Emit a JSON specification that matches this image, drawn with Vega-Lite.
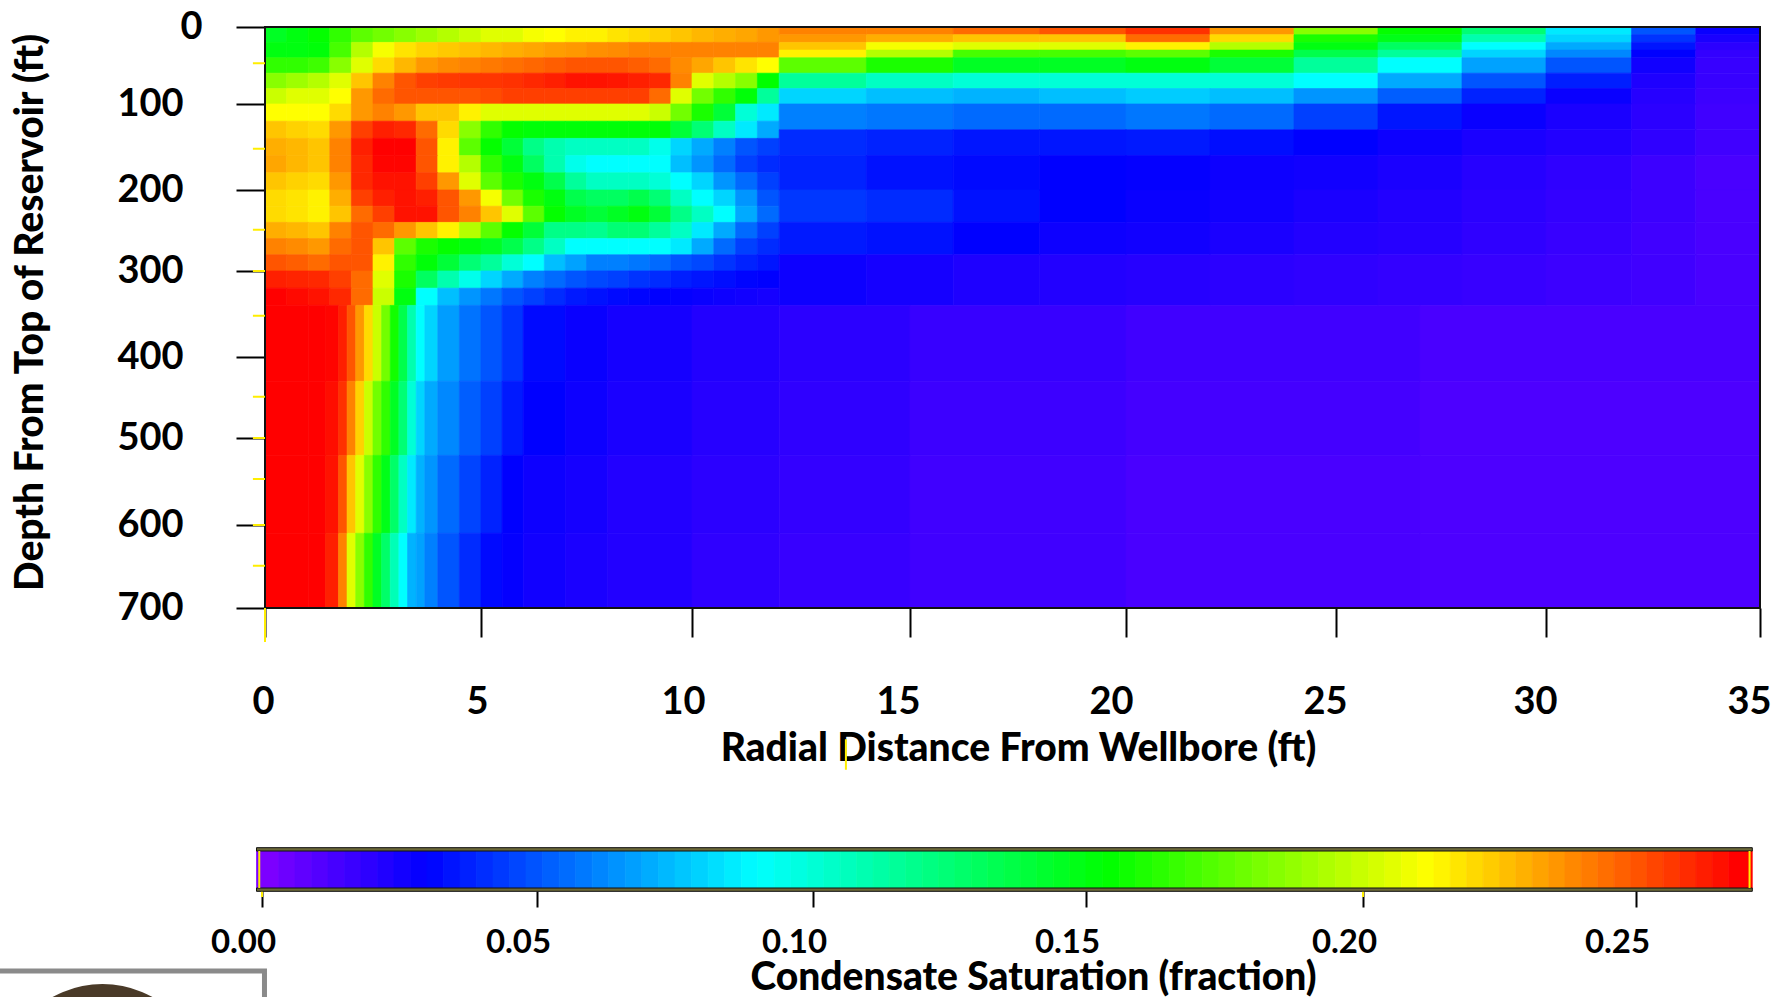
{"$schema":"https://vega.github.io/schema/vega-lite/v6.json","width":1790,"height":997,"padding":0,"autosize":{"type":"none"},"background":"white","config":{"view":{"stroke":null},"font":"Lato"},"resolve":{"scale":{"x":"independent","y":"independent"},"axis":{"x":"independent","y":"independent"}},"layer":[
{"encoding":{"x":{"field":"x","type":"quantitative","scale":{"domain":[0,5,10,15,20,25,30,35],"range":[265,481,692,910,1126,1336,1546,1760],"nice":false,"zero":false},"axis":{"orient":"bottom","values":[0,5,10,15,20,25,30,35],"format":"d","offset":-389,"domain":false,"grid":false,"labelFlush":false,"tickColor":"black","tickWidth":2,"tickSize":29,"labelFont":"Lato","labelFontWeight":"bold","labelFontSize":38,"labelColor":"black","labelPadding":46,"labelOffset":{"condition":[{"test":"datum.value==0","value":-2},{"test":"datum.value==5","value":-4},{"test":"datum.value==10","value":-9},{"test":"datum.value==15","value":-12},{"test":"datum.value==20","value":-15}],"value":-11},"title":"Radial Distance From Wellbore (ft)","titleFont":"Lato","titleFontWeight":900,"titleFontSize":39,"titleColor":"black","titleX":1018,"titleY":140,"titleAlign":"center","titleBaseline":"middle"}},"x2":{"field":"x2"},"y":{"field":"y","type":"quantitative","scale":{"domain":[0,100,200,300,400,500,600,700],"range":[27,104,190,271,357,438,525,608],"nice":false,"zero":false},"axis":{"values":[0,100,200,300,400,500,600,700],"format":"d","orient":"left","offset":-265,"domain":false,"grid":false,"labelFlush":false,"tickColor":"black","tickWidth":2,"tickSize":29,"labelFont":"Lato","labelFontWeight":"bold","labelFontSize":38,"labelColor":"black","labelPadding":{"condition":{"test":"datum.value==0","value":34},"value":53},"title":"Depth From Top of Reservoir (ft)","titleFont":"Lato","titleFontWeight":900,"titleFontSize":39,"titleColor":"black","titleX":-235,"titleY":312,"titleAlign":"center","titleBaseline":"middle"}},"y2":{"field":"y2"}},
"layer":[
{"mark":{"type":"rect","strokeWidth":0.7},"encoding":{"fill":{"field":"s","type":"quantitative","legend":null,"scale":{"domain":[0,0.03,0.09,0.154,0.212,0.269],"range":["#8000ff","#0000ff","#00ffff","#00ff00","#ffff00","#ff0000"],"interpolate":"rgb","clamp":true}},"stroke":{"field":"s","type":"quantitative","legend":null,"scale":{"domain":[0,0.03,0.09,0.154,0.212,0.269],"range":["#8000ff","#0000ff","#00ffff","#00ff00","#ffff00","#ff0000"],"interpolate":"rgb","clamp":true}}},"data":{"values":[
{"x":0,"x2":0.5,"y":0,"y2":20,"s":0.145},{"x":0.5,"x2":1,"y":0,"y2":20,"s":0.15},{"x":1,"x2":1.5,"y":0,"y2":20,"s":0.155},{"x":1.5,"x2":2,"y":0,"y2":20,"s":0.165},{"x":2,"x2":2.5,"y":0,"y2":20,"s":0.175},{"x":2.5,"x2":3,"y":0,"y2":20,"s":0.18},{"x":3,"x2":3.5,"y":0,"y2":20,"s":0.185},{"x":3.5,"x2":4,"y":0,"y2":20,"s":0.19},{"x":4,"x2":4.5,"y":0,"y2":20,"s":0.195},{"x":4.5,"x2":5,"y":0,"y2":20,"s":0.2},{"x":5,"x2":5.5,"y":0,"y2":20,"s":0.205},{"x":5.5,"x2":6,"y":0,"y2":20,"s":0.205},{"x":6,"x2":6.5,"y":0,"y2":20,"s":0.21},{"x":6.5,"x2":7,"y":0,"y2":20,"s":0.212},{"x":7,"x2":7.5,"y":0,"y2":20,"s":0.215},{"x":7.5,"x2":8,"y":0,"y2":20,"s":0.215},{"x":8,"x2":8.5,"y":0,"y2":20,"s":0.218},{"x":8.5,"x2":9,"y":0,"y2":20,"s":0.22},{"x":9,"x2":9.5,"y":0,"y2":20,"s":0.222},{"x":9.5,"x2":10,"y":0,"y2":20,"s":0.225},{"x":10,"x2":10.5,"y":0,"y2":20,"s":0.228},{"x":10.5,"x2":11,"y":0,"y2":20,"s":0.23},{"x":11,"x2":11.5,"y":0,"y2":20,"s":0.232},{"x":11.5,"x2":12,"y":0,"y2":20,"s":0.235},
{"x":0,"x2":0.5,"y":20,"y2":40,"s":0.15},{"x":0.5,"x2":1,"y":20,"y2":40,"s":0.15},{"x":1,"x2":1.5,"y":20,"y2":40,"s":0.152},{"x":1.5,"x2":2,"y":20,"y2":40,"s":0.17},{"x":2,"x2":2.5,"y":20,"y2":40,"s":0.195},{"x":2.5,"x2":3,"y":20,"y2":40,"s":0.21},{"x":3,"x2":3.5,"y":20,"y2":40,"s":0.218},{"x":3.5,"x2":4,"y":20,"y2":40,"s":0.222},{"x":4,"x2":4.5,"y":20,"y2":40,"s":0.224},{"x":4.5,"x2":5,"y":20,"y2":40,"s":0.226},{"x":5,"x2":5.5,"y":20,"y2":40,"s":0.228},{"x":5.5,"x2":6,"y":20,"y2":40,"s":0.23},{"x":6,"x2":6.5,"y":20,"y2":40,"s":0.232},{"x":6.5,"x2":7,"y":20,"y2":40,"s":0.234},{"x":7,"x2":7.5,"y":20,"y2":40,"s":0.235},{"x":7.5,"x2":8,"y":20,"y2":40,"s":0.237},{"x":8,"x2":8.5,"y":20,"y2":40,"s":0.238},{"x":8.5,"x2":9,"y":20,"y2":40,"s":0.24},{"x":9,"x2":9.5,"y":20,"y2":40,"s":0.24},{"x":9.5,"x2":10,"y":20,"y2":40,"s":0.24},{"x":10,"x2":10.5,"y":20,"y2":40,"s":0.24},{"x":10.5,"x2":11,"y":20,"y2":40,"s":0.24},{"x":11,"x2":11.5,"y":20,"y2":40,"s":0.24},{"x":11.5,"x2":12,"y":20,"y2":40,"s":0.24},
{"x":0,"x2":0.5,"y":40,"y2":60,"s":0.165},{"x":0.5,"x2":1,"y":40,"y2":60,"s":0.165},{"x":1,"x2":1.5,"y":40,"y2":60,"s":0.168},{"x":1.5,"x2":2,"y":40,"y2":60,"s":0.185},{"x":2,"x2":2.5,"y":40,"y2":60,"s":0.205},{"x":2.5,"x2":3,"y":40,"y2":60,"s":0.22},{"x":3,"x2":3.5,"y":40,"y2":60,"s":0.228},{"x":3.5,"x2":4,"y":40,"y2":60,"s":0.235},{"x":4,"x2":4.5,"y":40,"y2":60,"s":0.238},{"x":4.5,"x2":5,"y":40,"y2":60,"s":0.24},{"x":5,"x2":5.5,"y":40,"y2":60,"s":0.242},{"x":5.5,"x2":6,"y":40,"y2":60,"s":0.244},{"x":6,"x2":6.5,"y":40,"y2":60,"s":0.246},{"x":6.5,"x2":7,"y":40,"y2":60,"s":0.248},{"x":7,"x2":7.5,"y":40,"y2":60,"s":0.25},{"x":7.5,"x2":8,"y":40,"y2":60,"s":0.25},{"x":8,"x2":8.5,"y":40,"y2":60,"s":0.25},{"x":8.5,"x2":9,"y":40,"y2":60,"s":0.248},{"x":9,"x2":9.5,"y":40,"y2":60,"s":0.245},{"x":9.5,"x2":10,"y":40,"y2":60,"s":0.238},{"x":10,"x2":10.5,"y":40,"y2":60,"s":0.232},{"x":10.5,"x2":11,"y":40,"y2":60,"s":0.225},{"x":11,"x2":11.5,"y":40,"y2":60,"s":0.218},{"x":11.5,"x2":12,"y":40,"y2":60,"s":0.212},
{"x":0,"x2":0.5,"y":60,"y2":80,"s":0.185},{"x":0.5,"x2":1,"y":60,"y2":80,"s":0.19},{"x":1,"x2":1.5,"y":60,"y2":80,"s":0.195},{"x":1.5,"x2":2,"y":60,"y2":80,"s":0.205},{"x":2,"x2":2.5,"y":60,"y2":80,"s":0.225},{"x":2.5,"x2":3,"y":60,"y2":80,"s":0.24},{"x":3,"x2":3.5,"y":60,"y2":80,"s":0.25},{"x":3.5,"x2":4,"y":60,"y2":80,"s":0.255},{"x":4,"x2":4.5,"y":60,"y2":80,"s":0.256},{"x":4.5,"x2":5,"y":60,"y2":80,"s":0.257},{"x":5,"x2":5.5,"y":60,"y2":80,"s":0.257},{"x":5.5,"x2":6,"y":60,"y2":80,"s":0.258},{"x":6,"x2":6.5,"y":60,"y2":80,"s":0.26},{"x":6.5,"x2":7,"y":60,"y2":80,"s":0.262},{"x":7,"x2":7.5,"y":60,"y2":80,"s":0.265},{"x":7.5,"x2":8,"y":60,"y2":80,"s":0.265},{"x":8,"x2":8.5,"y":60,"y2":80,"s":0.264},{"x":8.5,"x2":9,"y":60,"y2":80,"s":0.262},{"x":9,"x2":9.5,"y":60,"y2":80,"s":0.26},{"x":9.5,"x2":10,"y":60,"y2":80,"s":0.24},{"x":10,"x2":10.5,"y":60,"y2":80,"s":0.205},{"x":10.5,"x2":11,"y":60,"y2":80,"s":0.195},{"x":11,"x2":11.5,"y":60,"y2":80,"s":0.185},{"x":11.5,"x2":12,"y":60,"y2":80,"s":0.154},
{"x":0,"x2":0.5,"y":80,"y2":100,"s":0.2},{"x":0.5,"x2":1,"y":80,"y2":100,"s":0.205},{"x":1,"x2":1.5,"y":80,"y2":100,"s":0.205},{"x":1.5,"x2":2,"y":80,"y2":100,"s":0.212},{"x":2,"x2":2.5,"y":80,"y2":100,"s":0.235},{"x":2.5,"x2":3,"y":80,"y2":100,"s":0.245},{"x":3,"x2":3.5,"y":80,"y2":100,"s":0.25},{"x":3.5,"x2":4,"y":80,"y2":100,"s":0.25},{"x":4,"x2":4.5,"y":80,"y2":100,"s":0.25},{"x":4.5,"x2":5,"y":80,"y2":100,"s":0.25},{"x":5,"x2":5.5,"y":80,"y2":100,"s":0.252},{"x":5.5,"x2":6,"y":80,"y2":100,"s":0.255},{"x":6,"x2":6.5,"y":80,"y2":100,"s":0.255},{"x":6.5,"x2":7,"y":80,"y2":100,"s":0.255},{"x":7,"x2":7.5,"y":80,"y2":100,"s":0.255},{"x":7.5,"x2":8,"y":80,"y2":100,"s":0.255},{"x":8,"x2":8.5,"y":80,"y2":100,"s":0.255},{"x":8.5,"x2":9,"y":80,"y2":100,"s":0.255},{"x":9,"x2":9.5,"y":80,"y2":100,"s":0.245},{"x":9.5,"x2":10,"y":80,"y2":100,"s":0.205},{"x":10,"x2":10.5,"y":80,"y2":100,"s":0.18},{"x":10.5,"x2":11,"y":80,"y2":100,"s":0.165},{"x":11,"x2":11.5,"y":80,"y2":100,"s":0.152},{"x":11.5,"x2":12,"y":80,"y2":100,"s":0.115},
{"x":0,"x2":0.5,"y":100,"y2":120,"s":0.212},{"x":0.5,"x2":1,"y":100,"y2":120,"s":0.212},{"x":1,"x2":1.5,"y":100,"y2":120,"s":0.212},{"x":1.5,"x2":2,"y":100,"y2":120,"s":0.22},{"x":2,"x2":2.5,"y":100,"y2":120,"s":0.235},{"x":2.5,"x2":3,"y":100,"y2":120,"s":0.24},{"x":3,"x2":3.5,"y":100,"y2":120,"s":0.235},{"x":3.5,"x2":4,"y":100,"y2":120,"s":0.225},{"x":4,"x2":4.5,"y":100,"y2":120,"s":0.225},{"x":4.5,"x2":5,"y":100,"y2":120,"s":0.215},{"x":5,"x2":5.5,"y":100,"y2":120,"s":0.205},{"x":5.5,"x2":6,"y":100,"y2":120,"s":0.205},{"x":6,"x2":6.5,"y":100,"y2":120,"s":0.205},{"x":6.5,"x2":7,"y":100,"y2":120,"s":0.205},{"x":7,"x2":7.5,"y":100,"y2":120,"s":0.205},{"x":7.5,"x2":8,"y":100,"y2":120,"s":0.205},{"x":8,"x2":8.5,"y":100,"y2":120,"s":0.205},{"x":8.5,"x2":9,"y":100,"y2":120,"s":0.205},{"x":9,"x2":9.5,"y":100,"y2":120,"s":0.2},{"x":9.5,"x2":10,"y":100,"y2":120,"s":0.18},{"x":10,"x2":10.5,"y":100,"y2":120,"s":0.16},{"x":10.5,"x2":11,"y":100,"y2":120,"s":0.14},{"x":11,"x2":11.5,"y":100,"y2":120,"s":0.1},{"x":11.5,"x2":12,"y":100,"y2":120,"s":0.085},
{"x":0,"x2":0.5,"y":120,"y2":140,"s":0.225},{"x":0.5,"x2":1,"y":120,"y2":140,"s":0.222},{"x":1,"x2":1.5,"y":120,"y2":140,"s":0.22},{"x":1.5,"x2":2,"y":120,"y2":140,"s":0.235},{"x":2,"x2":2.5,"y":120,"y2":140,"s":0.255},{"x":2.5,"x2":3,"y":120,"y2":140,"s":0.262},{"x":3,"x2":3.5,"y":120,"y2":140,"s":0.26},{"x":3.5,"x2":4,"y":120,"y2":140,"s":0.245},{"x":4,"x2":4.5,"y":120,"y2":140,"s":0.22},{"x":4.5,"x2":5,"y":120,"y2":140,"s":0.185},{"x":5,"x2":5.5,"y":120,"y2":140,"s":0.165},{"x":5.5,"x2":6,"y":120,"y2":140,"s":0.155},{"x":6,"x2":6.5,"y":120,"y2":140,"s":0.152},{"x":6.5,"x2":7,"y":120,"y2":140,"s":0.152},{"x":7,"x2":7.5,"y":120,"y2":140,"s":0.152},{"x":7.5,"x2":8,"y":120,"y2":140,"s":0.152},{"x":8,"x2":8.5,"y":120,"y2":140,"s":0.152},{"x":8.5,"x2":9,"y":120,"y2":140,"s":0.152},{"x":9,"x2":9.5,"y":120,"y2":140,"s":0.152},{"x":9.5,"x2":10,"y":120,"y2":140,"s":0.14},{"x":10,"x2":10.5,"y":120,"y2":140,"s":0.125},{"x":10.5,"x2":11,"y":120,"y2":140,"s":0.105},{"x":11,"x2":11.5,"y":120,"y2":140,"s":0.085},{"x":11.5,"x2":12,"y":120,"y2":140,"s":0.07},
{"x":0,"x2":0.5,"y":140,"y2":160,"s":0.23},{"x":0.5,"x2":1,"y":140,"y2":160,"s":0.228},{"x":1,"x2":1.5,"y":140,"y2":160,"s":0.225},{"x":1.5,"x2":2,"y":140,"y2":160,"s":0.24},{"x":2,"x2":2.5,"y":140,"y2":160,"s":0.262},{"x":2.5,"x2":3,"y":140,"y2":160,"s":0.27},{"x":3,"x2":3.5,"y":140,"y2":160,"s":0.27},{"x":3.5,"x2":4,"y":140,"y2":160,"s":0.25},{"x":4,"x2":4.5,"y":140,"y2":160,"s":0.215},{"x":4.5,"x2":5,"y":140,"y2":160,"s":0.175},{"x":5,"x2":5.5,"y":140,"y2":160,"s":0.155},{"x":5.5,"x2":6,"y":140,"y2":160,"s":0.14},{"x":6,"x2":6.5,"y":140,"y2":160,"s":0.12},{"x":6.5,"x2":7,"y":140,"y2":160,"s":0.11},{"x":7,"x2":7.5,"y":140,"y2":160,"s":0.105},{"x":7.5,"x2":8,"y":140,"y2":160,"s":0.105},{"x":8,"x2":8.5,"y":140,"y2":160,"s":0.105},{"x":8.5,"x2":9,"y":140,"y2":160,"s":0.105},{"x":9,"x2":9.5,"y":140,"y2":160,"s":0.095},{"x":9.5,"x2":10,"y":140,"y2":160,"s":0.08},{"x":10,"x2":10.5,"y":140,"y2":160,"s":0.07},{"x":10.5,"x2":11,"y":140,"y2":160,"s":0.06},{"x":11,"x2":11.5,"y":140,"y2":160,"s":0.05},{"x":11.5,"x2":12,"y":140,"y2":160,"s":0.045},
{"x":0,"x2":0.5,"y":160,"y2":180,"s":0.232},{"x":0.5,"x2":1,"y":160,"y2":180,"s":0.228},{"x":1,"x2":1.5,"y":160,"y2":180,"s":0.225},{"x":1.5,"x2":2,"y":160,"y2":180,"s":0.24},{"x":2,"x2":2.5,"y":160,"y2":180,"s":0.26},{"x":2.5,"x2":3,"y":160,"y2":180,"s":0.268},{"x":3,"x2":3.5,"y":160,"y2":180,"s":0.268},{"x":3.5,"x2":4,"y":160,"y2":180,"s":0.25},{"x":4,"x2":4.5,"y":160,"y2":180,"s":0.215},{"x":4.5,"x2":5,"y":160,"y2":180,"s":0.195},{"x":5,"x2":5.5,"y":160,"y2":180,"s":0.165},{"x":5.5,"x2":6,"y":160,"y2":180,"s":0.15},{"x":6,"x2":6.5,"y":160,"y2":180,"s":0.13},{"x":6.5,"x2":7,"y":160,"y2":180,"s":0.11},{"x":7,"x2":7.5,"y":160,"y2":180,"s":0.095},{"x":7.5,"x2":8,"y":160,"y2":180,"s":0.09},{"x":8,"x2":8.5,"y":160,"y2":180,"s":0.09},{"x":8.5,"x2":9,"y":160,"y2":180,"s":0.09},{"x":9,"x2":9.5,"y":160,"y2":180,"s":0.09},{"x":9.5,"x2":10,"y":160,"y2":180,"s":0.075},{"x":10,"x2":10.5,"y":160,"y2":180,"s":0.065},{"x":10.5,"x2":11,"y":160,"y2":180,"s":0.055},{"x":11,"x2":11.5,"y":160,"y2":180,"s":0.045},{"x":11.5,"x2":12,"y":160,"y2":180,"s":0.04},
{"x":0,"x2":0.5,"y":180,"y2":200,"s":0.225},{"x":0.5,"x2":1,"y":180,"y2":200,"s":0.222},{"x":1,"x2":1.5,"y":180,"y2":200,"s":0.22},{"x":1.5,"x2":2,"y":180,"y2":200,"s":0.235},{"x":2,"x2":2.5,"y":180,"y2":200,"s":0.26},{"x":2.5,"x2":3,"y":180,"y2":200,"s":0.265},{"x":3,"x2":3.5,"y":180,"y2":200,"s":0.265},{"x":3.5,"x2":4,"y":180,"y2":200,"s":0.255},{"x":4,"x2":4.5,"y":180,"y2":200,"s":0.235},{"x":4.5,"x2":5,"y":180,"y2":200,"s":0.205},{"x":5,"x2":5.5,"y":180,"y2":200,"s":0.175},{"x":5.5,"x2":6,"y":180,"y2":200,"s":0.16},{"x":6,"x2":6.5,"y":180,"y2":200,"s":0.15},{"x":6.5,"x2":7,"y":180,"y2":200,"s":0.135},{"x":7,"x2":7.5,"y":180,"y2":200,"s":0.115},{"x":7.5,"x2":8,"y":180,"y2":200,"s":0.105},{"x":8,"x2":8.5,"y":180,"y2":200,"s":0.105},{"x":8.5,"x2":9,"y":180,"y2":200,"s":0.105},{"x":9,"x2":9.5,"y":180,"y2":200,"s":0.1},{"x":9.5,"x2":10,"y":180,"y2":200,"s":0.09},{"x":10,"x2":10.5,"y":180,"y2":200,"s":0.08},{"x":10.5,"x2":11,"y":180,"y2":200,"s":0.065},{"x":11,"x2":11.5,"y":180,"y2":200,"s":0.055},{"x":11.5,"x2":12,"y":180,"y2":200,"s":0.045},
{"x":0,"x2":0.5,"y":200,"y2":220,"s":0.22},{"x":0.5,"x2":1,"y":200,"y2":220,"s":0.218},{"x":1,"x2":1.5,"y":200,"y2":220,"s":0.215},{"x":1.5,"x2":2,"y":200,"y2":220,"s":0.23},{"x":2,"x2":2.5,"y":200,"y2":220,"s":0.255},{"x":2.5,"x2":3,"y":200,"y2":220,"s":0.262},{"x":3,"x2":3.5,"y":200,"y2":220,"s":0.265},{"x":3.5,"x2":4,"y":200,"y2":220,"s":0.262},{"x":4,"x2":4.5,"y":200,"y2":220,"s":0.25},{"x":4.5,"x2":5,"y":200,"y2":220,"s":0.235},{"x":5,"x2":5.5,"y":200,"y2":220,"s":0.21},{"x":5.5,"x2":6,"y":200,"y2":220,"s":0.18},{"x":6,"x2":6.5,"y":200,"y2":220,"s":0.16},{"x":6.5,"x2":7,"y":200,"y2":220,"s":0.15},{"x":7,"x2":7.5,"y":200,"y2":220,"s":0.135},{"x":7.5,"x2":8,"y":200,"y2":220,"s":0.13},{"x":8,"x2":8.5,"y":200,"y2":220,"s":0.13},{"x":8.5,"x2":9,"y":200,"y2":220,"s":0.135},{"x":9,"x2":9.5,"y":200,"y2":220,"s":0.125},{"x":9.5,"x2":10,"y":200,"y2":220,"s":0.105},{"x":10,"x2":10.5,"y":200,"y2":220,"s":0.09},{"x":10.5,"x2":11,"y":200,"y2":220,"s":0.08},{"x":11,"x2":11.5,"y":200,"y2":220,"s":0.065},{"x":11.5,"x2":12,"y":200,"y2":220,"s":0.05},
{"x":0,"x2":0.5,"y":220,"y2":240,"s":0.22},{"x":0.5,"x2":1,"y":220,"y2":240,"s":0.218},{"x":1,"x2":1.5,"y":220,"y2":240,"s":0.215},{"x":1.5,"x2":2,"y":220,"y2":240,"s":0.225},{"x":2,"x2":2.5,"y":220,"y2":240,"s":0.245},{"x":2.5,"x2":3,"y":220,"y2":240,"s":0.255},{"x":3,"x2":3.5,"y":220,"y2":240,"s":0.265},{"x":3.5,"x2":4,"y":220,"y2":240,"s":0.265},{"x":4,"x2":4.5,"y":220,"y2":240,"s":0.25},{"x":4.5,"x2":5,"y":220,"y2":240,"s":0.24},{"x":5,"x2":5.5,"y":220,"y2":240,"s":0.225},{"x":5.5,"x2":6,"y":220,"y2":240,"s":0.205},{"x":6,"x2":6.5,"y":220,"y2":240,"s":0.175},{"x":6.5,"x2":7,"y":220,"y2":240,"s":0.155},{"x":7,"x2":7.5,"y":220,"y2":240,"s":0.145},{"x":7.5,"x2":8,"y":220,"y2":240,"s":0.14},{"x":8,"x2":8.5,"y":220,"y2":240,"s":0.145},{"x":8.5,"x2":9,"y":220,"y2":240,"s":0.15},{"x":9,"x2":9.5,"y":220,"y2":240,"s":0.14},{"x":9.5,"x2":10,"y":220,"y2":240,"s":0.12},{"x":10,"x2":10.5,"y":220,"y2":240,"s":0.105},{"x":10.5,"x2":11,"y":220,"y2":240,"s":0.09},{"x":11,"x2":11.5,"y":220,"y2":240,"s":0.07},{"x":11.5,"x2":12,"y":220,"y2":240,"s":0.055},
{"x":0,"x2":0.5,"y":240,"y2":260,"s":0.23},{"x":0.5,"x2":1,"y":240,"y2":260,"s":0.228},{"x":1,"x2":1.5,"y":240,"y2":260,"s":0.225},{"x":1.5,"x2":2,"y":240,"y2":260,"s":0.24},{"x":2,"x2":2.5,"y":240,"y2":260,"s":0.25},{"x":2.5,"x2":3,"y":240,"y2":260,"s":0.245},{"x":3,"x2":3.5,"y":240,"y2":260,"s":0.235},{"x":3.5,"x2":4,"y":240,"y2":260,"s":0.225},{"x":4,"x2":4.5,"y":240,"y2":260,"s":0.215},{"x":4.5,"x2":5,"y":240,"y2":260,"s":0.195},{"x":5,"x2":5.5,"y":240,"y2":260,"s":0.175},{"x":5.5,"x2":6,"y":240,"y2":260,"s":0.155},{"x":6,"x2":6.5,"y":240,"y2":260,"s":0.14},{"x":6.5,"x2":7,"y":240,"y2":260,"s":0.12},{"x":7,"x2":7.5,"y":240,"y2":260,"s":0.12},{"x":7.5,"x2":8,"y":240,"y2":260,"s":0.118},{"x":8,"x2":8.5,"y":240,"y2":260,"s":0.125},{"x":8.5,"x2":9,"y":240,"y2":260,"s":0.125},{"x":9,"x2":9.5,"y":240,"y2":260,"s":0.115},{"x":9.5,"x2":10,"y":240,"y2":260,"s":0.105},{"x":10,"x2":10.5,"y":240,"y2":260,"s":0.085},{"x":10.5,"x2":11,"y":240,"y2":260,"s":0.07},{"x":11,"x2":11.5,"y":240,"y2":260,"s":0.055},{"x":11.5,"x2":12,"y":240,"y2":260,"s":0.045},
{"x":0,"x2":0.5,"y":260,"y2":280,"s":0.24},{"x":0.5,"x2":1,"y":260,"y2":280,"s":0.238},{"x":1,"x2":1.5,"y":260,"y2":280,"s":0.235},{"x":1.5,"x2":2,"y":260,"y2":280,"s":0.245},{"x":2,"x2":2.5,"y":260,"y2":280,"s":0.25},{"x":2.5,"x2":3,"y":260,"y2":280,"s":0.225},{"x":3,"x2":3.5,"y":260,"y2":280,"s":0.175},{"x":3.5,"x2":4,"y":260,"y2":280,"s":0.16},{"x":4,"x2":4.5,"y":260,"y2":280,"s":0.155},{"x":4.5,"x2":5,"y":260,"y2":280,"s":0.15},{"x":5,"x2":5.5,"y":260,"y2":280,"s":0.145},{"x":5.5,"x2":6,"y":260,"y2":280,"s":0.135},{"x":6,"x2":6.5,"y":260,"y2":280,"s":0.12},{"x":6.5,"x2":7,"y":260,"y2":280,"s":0.105},{"x":7,"x2":7.5,"y":260,"y2":280,"s":0.09},{"x":7.5,"x2":8,"y":260,"y2":280,"s":0.09},{"x":8,"x2":8.5,"y":260,"y2":280,"s":0.09},{"x":8.5,"x2":9,"y":260,"y2":280,"s":0.09},{"x":9,"x2":9.5,"y":260,"y2":280,"s":0.09},{"x":9.5,"x2":10,"y":260,"y2":280,"s":0.085},{"x":10,"x2":10.5,"y":260,"y2":280,"s":0.07},{"x":10.5,"x2":11,"y":260,"y2":280,"s":0.055},{"x":11,"x2":11.5,"y":260,"y2":280,"s":0.045},{"x":11.5,"x2":12,"y":260,"y2":280,"s":0.04},
{"x":0,"x2":0.5,"y":280,"y2":300,"s":0.25},{"x":0.5,"x2":1,"y":280,"y2":300,"s":0.248},{"x":1,"x2":1.5,"y":280,"y2":300,"s":0.245},{"x":1.5,"x2":2,"y":280,"y2":300,"s":0.25},{"x":2,"x2":2.5,"y":280,"y2":300,"s":0.25},{"x":2.5,"x2":3,"y":280,"y2":300,"s":0.215},{"x":3,"x2":3.5,"y":280,"y2":300,"s":0.165},{"x":3.5,"x2":4,"y":280,"y2":300,"s":0.152},{"x":4,"x2":4.5,"y":280,"y2":300,"s":0.14},{"x":4.5,"x2":5,"y":280,"y2":300,"s":0.125},{"x":5,"x2":5.5,"y":280,"y2":300,"s":0.115},{"x":5.5,"x2":6,"y":280,"y2":300,"s":0.1},{"x":6,"x2":6.5,"y":280,"y2":300,"s":0.09},{"x":6.5,"x2":7,"y":280,"y2":300,"s":0.075},{"x":7,"x2":7.5,"y":280,"y2":300,"s":0.068},{"x":7.5,"x2":8,"y":280,"y2":300,"s":0.06},{"x":8,"x2":8.5,"y":280,"y2":300,"s":0.06},{"x":8.5,"x2":9,"y":280,"y2":300,"s":0.058},{"x":9,"x2":9.5,"y":280,"y2":300,"s":0.055},{"x":9.5,"x2":10,"y":280,"y2":300,"s":0.05},{"x":10,"x2":10.5,"y":280,"y2":300,"s":0.047},{"x":10.5,"x2":11,"y":280,"y2":300,"s":0.042},{"x":11,"x2":11.5,"y":280,"y2":300,"s":0.038},{"x":11.5,"x2":12,"y":280,"y2":300,"s":0.035},
{"x":0,"x2":0.5,"y":300,"y2":320,"s":0.262},{"x":0.5,"x2":1,"y":300,"y2":320,"s":0.261},{"x":1,"x2":1.5,"y":300,"y2":320,"s":0.26},{"x":1.5,"x2":2,"y":300,"y2":320,"s":0.255},{"x":2,"x2":2.5,"y":300,"y2":320,"s":0.245},{"x":2.5,"x2":3,"y":300,"y2":320,"s":0.205},{"x":3,"x2":3.5,"y":300,"y2":320,"s":0.16},{"x":3.5,"x2":4,"y":300,"y2":320,"s":0.13},{"x":4,"x2":4.5,"y":300,"y2":320,"s":0.11},{"x":4.5,"x2":5,"y":300,"y2":320,"s":0.095},{"x":5,"x2":5.5,"y":300,"y2":320,"s":0.08},{"x":5.5,"x2":6,"y":300,"y2":320,"s":0.07},{"x":6,"x2":6.5,"y":300,"y2":320,"s":0.06},{"x":6.5,"x2":7,"y":300,"y2":320,"s":0.055},{"x":7,"x2":7.5,"y":300,"y2":320,"s":0.05},{"x":7.5,"x2":8,"y":300,"y2":320,"s":0.047},{"x":8,"x2":8.5,"y":300,"y2":320,"s":0.045},{"x":8.5,"x2":9,"y":300,"y2":320,"s":0.042},{"x":9,"x2":9.5,"y":300,"y2":320,"s":0.04},{"x":9.5,"x2":10,"y":300,"y2":320,"s":0.037},{"x":10,"x2":10.5,"y":300,"y2":320,"s":0.035},{"x":10.5,"x2":11,"y":300,"y2":320,"s":0.033},{"x":11,"x2":11.5,"y":300,"y2":320,"s":0.031},{"x":11.5,"x2":12,"y":300,"y2":320,"s":0.03},
{"x":0,"x2":0.5,"y":320,"y2":340,"s":0.269},{"x":0.5,"x2":1,"y":320,"y2":340,"s":0.267},{"x":1,"x2":1.5,"y":320,"y2":340,"s":0.265},{"x":1.5,"x2":2,"y":320,"y2":340,"s":0.26},{"x":2,"x2":2.5,"y":320,"y2":340,"s":0.245},{"x":2.5,"x2":3,"y":320,"y2":340,"s":0.2},{"x":3,"x2":3.5,"y":320,"y2":340,"s":0.15},{"x":3.5,"x2":4,"y":320,"y2":340,"s":0.09},{"x":4,"x2":4.5,"y":320,"y2":340,"s":0.075},{"x":4.5,"x2":5,"y":320,"y2":340,"s":0.065},{"x":5,"x2":5.5,"y":320,"y2":340,"s":0.058},{"x":5.5,"x2":6,"y":320,"y2":340,"s":0.05},{"x":6,"x2":6.5,"y":320,"y2":340,"s":0.045},{"x":6.5,"x2":7,"y":320,"y2":340,"s":0.04},{"x":7,"x2":7.5,"y":320,"y2":340,"s":0.036},{"x":7.5,"x2":8,"y":320,"y2":340,"s":0.034},{"x":8,"x2":8.5,"y":320,"y2":340,"s":0.032},{"x":8.5,"x2":9,"y":320,"y2":340,"s":0.031},{"x":9,"x2":9.5,"y":320,"y2":340,"s":0.03},{"x":9.5,"x2":10,"y":320,"y2":340,"s":0.029},{"x":10,"x2":10.5,"y":320,"y2":340,"s":0.028},{"x":10.5,"x2":11,"y":320,"y2":340,"s":0.027},{"x":11,"x2":11.5,"y":320,"y2":340,"s":0.026},{"x":11.5,"x2":12,"y":320,"y2":340,"s":0.025},
{"x":12,"x2":14,"y":0,"y2":10,"s":0.24},{"x":14,"x2":16,"y":0,"y2":10,"s":0.24},{"x":16,"x2":18,"y":0,"y2":10,"s":0.245},{"x":18,"x2":20,"y":0,"y2":10,"s":0.25},{"x":20,"x2":22,"y":0,"y2":10,"s":0.258},{"x":22,"x2":24,"y":0,"y2":10,"s":0.235},{"x":24,"x2":26,"y":0,"y2":10,"s":0.185},{"x":26,"x2":28,"y":0,"y2":10,"s":0.155},{"x":28,"x2":30,"y":0,"y2":10,"s":0.125},{"x":30,"x2":32,"y":0,"y2":10,"s":0.085},{"x":32,"x2":33.5,"y":0,"y2":10,"s":0.05},{"x":33.5,"x2":35,"y":0,"y2":10,"s":0.028},
{"x":12,"x2":14,"y":10,"y2":20,"s":0.235},{"x":14,"x2":16,"y":10,"y2":20,"s":0.23},{"x":16,"x2":18,"y":10,"y2":20,"s":0.225},{"x":18,"x2":20,"y":10,"y2":20,"s":0.225},{"x":20,"x2":22,"y":10,"y2":20,"s":0.245},{"x":22,"x2":24,"y":10,"y2":20,"s":0.22},{"x":24,"x2":26,"y":10,"y2":20,"s":0.16},{"x":26,"x2":28,"y":10,"y2":20,"s":0.148},{"x":28,"x2":30,"y":10,"y2":20,"s":0.11},{"x":30,"x2":32,"y":10,"y2":20,"s":0.08},{"x":32,"x2":33.5,"y":10,"y2":20,"s":0.042},{"x":33.5,"x2":35,"y":10,"y2":20,"s":0.024},
{"x":12,"x2":14,"y":20,"y2":30,"s":0.225},{"x":14,"x2":16,"y":20,"y2":30,"s":0.21},{"x":16,"x2":18,"y":20,"y2":30,"s":0.205},{"x":18,"x2":20,"y":20,"y2":30,"s":0.205},{"x":20,"x2":22,"y":20,"y2":30,"s":0.215},{"x":22,"x2":24,"y":20,"y2":30,"s":0.195},{"x":24,"x2":26,"y":20,"y2":30,"s":0.15},{"x":26,"x2":28,"y":20,"y2":30,"s":0.13},{"x":28,"x2":30,"y":20,"y2":30,"s":0.09},{"x":30,"x2":32,"y":20,"y2":30,"s":0.07},{"x":32,"x2":33.5,"y":20,"y2":30,"s":0.035},{"x":33.5,"x2":35,"y":20,"y2":30,"s":0.02},
{"x":12,"x2":14,"y":30,"y2":40,"s":0.215},{"x":14,"x2":16,"y":30,"y2":40,"s":0.195},{"x":16,"x2":18,"y":30,"y2":40,"s":0.17},{"x":18,"x2":20,"y":30,"y2":40,"s":0.17},{"x":20,"x2":22,"y":30,"y2":40,"s":0.175},{"x":22,"x2":24,"y":30,"y2":40,"s":0.16},{"x":24,"x2":26,"y":30,"y2":40,"s":0.135},{"x":26,"x2":28,"y":30,"y2":40,"s":0.115},{"x":28,"x2":30,"y":30,"y2":40,"s":0.08},{"x":30,"x2":32,"y":30,"y2":40,"s":0.062},{"x":32,"x2":33.5,"y":30,"y2":40,"s":0.03},{"x":33.5,"x2":35,"y":30,"y2":40,"s":0.018},
{"x":12,"x2":14,"y":40,"y2":60,"s":0.175},{"x":14,"x2":16,"y":40,"y2":60,"s":0.16},{"x":16,"x2":18,"y":40,"y2":60,"s":0.145},{"x":18,"x2":20,"y":40,"y2":60,"s":0.145},{"x":20,"x2":22,"y":40,"y2":60,"s":0.15},{"x":22,"x2":24,"y":40,"y2":60,"s":0.14},{"x":24,"x2":26,"y":40,"y2":60,"s":0.115},{"x":26,"x2":28,"y":40,"y2":60,"s":0.09},{"x":28,"x2":30,"y":40,"y2":60,"s":0.068},{"x":30,"x2":32,"y":40,"y2":60,"s":0.05},{"x":32,"x2":33.5,"y":40,"y2":60,"s":0.026},{"x":33.5,"x2":35,"y":40,"y2":60,"s":0.017},
{"x":12,"x2":14,"y":60,"y2":80,"s":0.115},{"x":14,"x2":16,"y":60,"y2":80,"s":0.105},{"x":16,"x2":18,"y":60,"y2":80,"s":0.1},{"x":18,"x2":20,"y":60,"y2":80,"s":0.1},{"x":20,"x2":22,"y":60,"y2":80,"s":0.1},{"x":22,"x2":24,"y":60,"y2":80,"s":0.1},{"x":24,"x2":26,"y":60,"y2":80,"s":0.09},{"x":26,"x2":28,"y":60,"y2":80,"s":0.07},{"x":28,"x2":30,"y":60,"y2":80,"s":0.05},{"x":30,"x2":32,"y":60,"y2":80,"s":0.037},{"x":32,"x2":33.5,"y":60,"y2":80,"s":0.023},{"x":33.5,"x2":35,"y":60,"y2":80,"s":0.017},
{"x":12,"x2":14,"y":80,"y2":100,"s":0.08},{"x":14,"x2":16,"y":80,"y2":100,"s":0.075},{"x":16,"x2":18,"y":80,"y2":100,"s":0.072},{"x":18,"x2":20,"y":80,"y2":100,"s":0.075},{"x":20,"x2":22,"y":80,"y2":100,"s":0.078},{"x":22,"x2":24,"y":80,"y2":100,"s":0.075},{"x":24,"x2":26,"y":80,"y2":100,"s":0.065},{"x":26,"x2":28,"y":80,"y2":100,"s":0.052},{"x":28,"x2":30,"y":80,"y2":100,"s":0.038},{"x":30,"x2":32,"y":80,"y2":100,"s":0.028},{"x":32,"x2":33.5,"y":80,"y2":100,"s":0.021},{"x":33.5,"x2":35,"y":80,"y2":100,"s":0.016},
{"x":12,"x2":14,"y":100,"y2":130,"s":0.06},{"x":14,"x2":16,"y":100,"y2":130,"s":0.058},{"x":16,"x2":18,"y":100,"y2":130,"s":0.055},{"x":18,"x2":20,"y":100,"y2":130,"s":0.055},{"x":20,"x2":22,"y":100,"y2":130,"s":0.058},{"x":22,"x2":24,"y":100,"y2":130,"s":0.055},{"x":24,"x2":26,"y":100,"y2":130,"s":0.045},{"x":26,"x2":28,"y":100,"y2":130,"s":0.035},{"x":28,"x2":30,"y":100,"y2":130,"s":0.028},{"x":30,"x2":32,"y":100,"y2":130,"s":0.024},{"x":32,"x2":33.5,"y":100,"y2":130,"s":0.02},{"x":33.5,"x2":35,"y":100,"y2":130,"s":0.015},
{"x":12,"x2":14,"y":130,"y2":160,"s":0.04},{"x":14,"x2":16,"y":130,"y2":160,"s":0.038},{"x":16,"x2":18,"y":130,"y2":160,"s":0.035},{"x":18,"x2":20,"y":130,"y2":160,"s":0.035},{"x":20,"x2":22,"y":130,"y2":160,"s":0.036},{"x":22,"x2":24,"y":130,"y2":160,"s":0.033},{"x":24,"x2":26,"y":130,"y2":160,"s":0.03},{"x":26,"x2":28,"y":130,"y2":160,"s":0.027},{"x":28,"x2":30,"y":130,"y2":160,"s":0.024},{"x":30,"x2":32,"y":130,"y2":160,"s":0.022},{"x":32,"x2":33.5,"y":130,"y2":160,"s":0.019},{"x":33.5,"x2":35,"y":130,"y2":160,"s":0.015},
{"x":12,"x2":14,"y":160,"y2":200,"s":0.038},{"x":14,"x2":16,"y":160,"y2":200,"s":0.034},{"x":16,"x2":18,"y":160,"y2":200,"s":0.032},{"x":18,"x2":20,"y":160,"y2":200,"s":0.03},{"x":20,"x2":22,"y":160,"y2":200,"s":0.029},{"x":22,"x2":24,"y":160,"y2":200,"s":0.027},{"x":24,"x2":26,"y":160,"y2":200,"s":0.026},{"x":26,"x2":28,"y":160,"y2":200,"s":0.024},{"x":28,"x2":30,"y":160,"y2":200,"s":0.021},{"x":30,"x2":32,"y":160,"y2":200,"s":0.019},{"x":32,"x2":33.5,"y":160,"y2":200,"s":0.016},{"x":33.5,"x2":35,"y":160,"y2":200,"s":0.013},
{"x":12,"x2":14,"y":200,"y2":240,"s":0.043},{"x":14,"x2":16,"y":200,"y2":240,"s":0.04},{"x":16,"x2":18,"y":200,"y2":240,"s":0.034},{"x":18,"x2":20,"y":200,"y2":240,"s":0.03},{"x":20,"x2":22,"y":200,"y2":240,"s":0.028},{"x":22,"x2":24,"y":200,"y2":240,"s":0.026},{"x":24,"x2":26,"y":200,"y2":240,"s":0.024},{"x":26,"x2":28,"y":200,"y2":240,"s":0.022},{"x":28,"x2":30,"y":200,"y2":240,"s":0.02},{"x":30,"x2":32,"y":200,"y2":240,"s":0.018},{"x":32,"x2":33.5,"y":200,"y2":240,"s":0.016},{"x":33.5,"x2":35,"y":200,"y2":240,"s":0.013},
{"x":12,"x2":14,"y":240,"y2":280,"s":0.036},{"x":14,"x2":16,"y":240,"y2":280,"s":0.034},{"x":16,"x2":18,"y":240,"y2":280,"s":0.03},{"x":18,"x2":20,"y":240,"y2":280,"s":0.027},{"x":20,"x2":22,"y":240,"y2":280,"s":0.026},{"x":22,"x2":24,"y":240,"y2":280,"s":0.024},{"x":24,"x2":26,"y":240,"y2":280,"s":0.022},{"x":26,"x2":28,"y":240,"y2":280,"s":0.021},{"x":28,"x2":30,"y":240,"y2":280,"s":0.019},{"x":30,"x2":32,"y":240,"y2":280,"s":0.017},{"x":32,"x2":33.5,"y":240,"y2":280,"s":0.015},{"x":33.5,"x2":35,"y":240,"y2":280,"s":0.013},
{"x":12,"x2":14,"y":280,"y2":340,"s":0.027},{"x":14,"x2":16,"y":280,"y2":340,"s":0.025},{"x":16,"x2":18,"y":280,"y2":340,"s":0.023},{"x":18,"x2":20,"y":280,"y2":340,"s":0.022},{"x":20,"x2":22,"y":280,"y2":340,"s":0.021},{"x":22,"x2":24,"y":280,"y2":340,"s":0.02},{"x":24,"x2":26,"y":280,"y2":340,"s":0.019},{"x":26,"x2":28,"y":280,"y2":340,"s":0.018},{"x":28,"x2":30,"y":280,"y2":340,"s":0.017},{"x":30,"x2":32,"y":280,"y2":340,"s":0.016},{"x":32,"x2":33.5,"y":280,"y2":340,"s":0.015},{"x":33.5,"x2":35,"y":280,"y2":340,"s":0.013},
{"x":0,"x2":1,"y":340,"y2":430,"s":0.272},{"x":1,"x2":1.4,"y":340,"y2":430,"s":0.27},{"x":1.4,"x2":1.7,"y":340,"y2":430,"s":0.268},{"x":1.7,"x2":1.9,"y":340,"y2":430,"s":0.262},{"x":1.9,"x2":2.1,"y":340,"y2":430,"s":0.25},{"x":2.1,"x2":2.3,"y":340,"y2":430,"s":0.235},{"x":2.3,"x2":2.5,"y":340,"y2":430,"s":0.22},{"x":2.5,"x2":2.7,"y":340,"y2":430,"s":0.2},{"x":2.7,"x2":2.9,"y":340,"y2":430,"s":0.18},{"x":2.9,"x2":3.1,"y":340,"y2":430,"s":0.158},{"x":3.1,"x2":3.3,"y":340,"y2":430,"s":0.135},{"x":3.3,"x2":3.5,"y":340,"y2":430,"s":0.11},{"x":3.5,"x2":3.7,"y":340,"y2":430,"s":0.09},{"x":3.7,"x2":4,"y":340,"y2":430,"s":0.08},{"x":4,"x2":4.5,"y":340,"y2":430,"s":0.067},{"x":4.5,"x2":5,"y":340,"y2":430,"s":0.057},{"x":5,"x2":5.5,"y":340,"y2":430,"s":0.05},{"x":5.5,"x2":6,"y":340,"y2":430,"s":0.042},{"x":6,"x2":7,"y":340,"y2":430,"s":0.032},{"x":7,"x2":8,"y":340,"y2":430,"s":0.028},{"x":8,"x2":10,"y":340,"y2":430,"s":0.025},{"x":10,"x2":12,"y":340,"y2":430,"s":0.022},{"x":12,"x2":15,"y":340,"y2":430,"s":0.02},{"x":15,"x2":20,"y":340,"y2":430,"s":0.017},{"x":20,"x2":27,"y":340,"y2":430,"s":0.015},{"x":27,"x2":35,"y":340,"y2":430,"s":0.013},
{"x":0,"x2":1,"y":430,"y2":520,"s":0.272},{"x":1,"x2":1.4,"y":430,"y2":520,"s":0.27},{"x":1.4,"x2":1.7,"y":430,"y2":520,"s":0.266},{"x":1.7,"x2":1.9,"y":430,"y2":520,"s":0.258},{"x":1.9,"x2":2.1,"y":430,"y2":520,"s":0.24},{"x":2.1,"x2":2.3,"y":430,"y2":520,"s":0.222},{"x":2.3,"x2":2.5,"y":430,"y2":520,"s":0.2},{"x":2.5,"x2":2.7,"y":430,"y2":520,"s":0.18},{"x":2.7,"x2":2.9,"y":430,"y2":520,"s":0.165},{"x":2.9,"x2":3.1,"y":430,"y2":520,"s":0.145},{"x":3.1,"x2":3.3,"y":430,"y2":520,"s":0.125},{"x":3.3,"x2":3.5,"y":430,"y2":520,"s":0.1},{"x":3.5,"x2":3.7,"y":430,"y2":520,"s":0.08},{"x":3.7,"x2":4,"y":430,"y2":520,"s":0.07},{"x":4,"x2":4.5,"y":430,"y2":520,"s":0.062},{"x":4.5,"x2":5,"y":430,"y2":520,"s":0.052},{"x":5,"x2":5.5,"y":430,"y2":520,"s":0.045},{"x":5.5,"x2":6,"y":430,"y2":520,"s":0.036},{"x":6,"x2":7,"y":430,"y2":520,"s":0.03},{"x":7,"x2":8,"y":430,"y2":520,"s":0.027},{"x":8,"x2":10,"y":430,"y2":520,"s":0.024},{"x":10,"x2":12,"y":430,"y2":520,"s":0.021},{"x":12,"x2":15,"y":430,"y2":520,"s":0.019},{"x":15,"x2":20,"y":430,"y2":520,"s":0.016},{"x":20,"x2":27,"y":430,"y2":520,"s":0.014},{"x":27,"x2":35,"y":430,"y2":520,"s":0.012},
{"x":0,"x2":1,"y":520,"y2":610,"s":0.272},{"x":1,"x2":1.4,"y":520,"y2":610,"s":0.27},{"x":1.4,"x2":1.7,"y":520,"y2":610,"s":0.265},{"x":1.7,"x2":1.9,"y":520,"y2":610,"s":0.25},{"x":1.9,"x2":2.1,"y":520,"y2":610,"s":0.225},{"x":2.1,"x2":2.3,"y":520,"y2":610,"s":0.205},{"x":2.3,"x2":2.5,"y":520,"y2":610,"s":0.185},{"x":2.5,"x2":2.7,"y":520,"y2":610,"s":0.165},{"x":2.7,"x2":2.9,"y":520,"y2":610,"s":0.148},{"x":2.9,"x2":3.1,"y":520,"y2":610,"s":0.128},{"x":3.1,"x2":3.3,"y":520,"y2":610,"s":0.105},{"x":3.3,"x2":3.5,"y":520,"y2":610,"s":0.085},{"x":3.5,"x2":3.7,"y":520,"y2":610,"s":0.072},{"x":3.7,"x2":4,"y":520,"y2":610,"s":0.065},{"x":4,"x2":4.5,"y":520,"y2":610,"s":0.055},{"x":4.5,"x2":5,"y":520,"y2":610,"s":0.046},{"x":5,"x2":5.5,"y":520,"y2":610,"s":0.038},{"x":5.5,"x2":6,"y":520,"y2":610,"s":0.03},{"x":6,"x2":7,"y":520,"y2":610,"s":0.027},{"x":7,"x2":8,"y":520,"y2":610,"s":0.025},{"x":8,"x2":10,"y":520,"y2":610,"s":0.022},{"x":10,"x2":12,"y":520,"y2":610,"s":0.02},{"x":12,"x2":15,"y":520,"y2":610,"s":0.018},{"x":15,"x2":20,"y":520,"y2":610,"s":0.015},{"x":20,"x2":27,"y":520,"y2":610,"s":0.013},{"x":27,"x2":35,"y":520,"y2":610,"s":0.012},
{"x":0,"x2":1,"y":610,"y2":700,"s":0.272},{"x":1,"x2":1.4,"y":610,"y2":700,"s":0.27},{"x":1.4,"x2":1.7,"y":610,"y2":700,"s":0.262},{"x":1.7,"x2":1.9,"y":610,"y2":700,"s":0.24},{"x":1.9,"x2":2.1,"y":610,"y2":700,"s":0.205},{"x":2.1,"x2":2.3,"y":610,"y2":700,"s":0.185},{"x":2.3,"x2":2.5,"y":610,"y2":700,"s":0.165},{"x":2.5,"x2":2.7,"y":610,"y2":700,"s":0.145},{"x":2.7,"x2":2.9,"y":610,"y2":700,"s":0.128},{"x":2.9,"x2":3.1,"y":610,"y2":700,"s":0.108},{"x":3.1,"x2":3.3,"y":610,"y2":700,"s":0.09},{"x":3.3,"x2":3.5,"y":610,"y2":700,"s":0.072},{"x":3.5,"x2":3.7,"y":610,"y2":700,"s":0.068},{"x":3.7,"x2":4,"y":610,"y2":700,"s":0.06},{"x":4,"x2":4.5,"y":610,"y2":700,"s":0.05},{"x":4.5,"x2":5,"y":610,"y2":700,"s":0.04},{"x":5,"x2":5.5,"y":610,"y2":700,"s":0.032},{"x":5.5,"x2":6,"y":610,"y2":700,"s":0.029},{"x":6,"x2":7,"y":610,"y2":700,"s":0.026},{"x":7,"x2":8,"y":610,"y2":700,"s":0.024},{"x":8,"x2":10,"y":610,"y2":700,"s":0.022},{"x":10,"x2":12,"y":610,"y2":700,"s":0.019},{"x":12,"x2":15,"y":610,"y2":700,"s":0.017},{"x":15,"x2":20,"y":610,"y2":700,"s":0.015},{"x":20,"x2":27,"y":610,"y2":700,"s":0.013},{"x":27,"x2":35,"y":610,"y2":700,"s":0.012}
]}},
{"mark":{"type":"rect","fillOpacity":0,"stroke":"#111111","strokeWidth":2},"data":{"values":[{"x":0,"x2":35,"y":0,"y2":700}]}},
{"mark":{"type":"rect","fillOpacity":0,"stroke":"#ffee00","strokeWidth":2},"data":{"values":[{"x":-0.28,"x2":0,"y":47,"y2":47},{"x":-0.28,"x2":0,"y":152,"y2":152},{"x":-0.28,"x2":0,"y":249,"y2":249},{"x":-0.28,"x2":0,"y":300,"y2":300},{"x":-0.28,"x2":0,"y":352,"y2":352},{"x":-0.28,"x2":0,"y":449,"y2":449},{"x":-0.28,"x2":0,"y":500,"y2":500},{"x":-0.28,"x2":0,"y":547,"y2":547},{"x":-0.28,"x2":0,"y":600,"y2":600},{"x":-0.28,"x2":0,"y":649,"y2":649},{"x":0,"x2":0,"y":700,"y2":741},{"x":13.53,"x2":13.53,"y":858,"y2":895}]}}
]},
{"encoding":{"x":{"field":"x","type":"quantitative","scale":{"domain":[0,0.05,0.1,0.15,0.2,0.25],"range":[262,537,813,1086,1363,1636],"nice":false,"zero":false},"axis":{"orient":"bottom","values":[0,0.05,0.1,0.15,0.2,0.25],"format":".2f","offset":-106,"domain":false,"grid":false,"labelFlush":false,"tickColor":"black","tickWidth":2,"tickSize":16,"labelFont":"Lato","labelFontWeight":"bold","labelFontSize":33,"labelColor":"black","labelPadding":19,"labelOffset":-19,"title":"Condensate Saturation (fraction)","titleFont":"Lato","titleFontWeight":900,"titleFontSize":39,"titleColor":"black","titleX":1033,"titleY":86,"titleAlign":"center","titleBaseline":"middle"}},"x2":{"field":"x2"},"y":{"field":"y","type":"quantitative","axis":null,"scale":{"domain":[0,1],"range":[851,888],"nice":false,"zero":false}},"y2":{"field":"y2"}},
"layer":[
{"mark":{"type":"rect","strokeWidth":0.7},"encoding":{"fill":{"field":"s","type":"quantitative","legend":null,"scale":{"domain":[0,0.03,0.09,0.154,0.212,0.269],"range":["#8000ff","#0000ff","#00ffff","#00ff00","#ffff00","#ff0000"],"interpolate":"rgb","clamp":true}},"stroke":{"field":"s","type":"quantitative","legend":null,"scale":{"domain":[0,0.03,0.09,0.154,0.212,0.269],"range":["#8000ff","#0000ff","#00ffff","#00ff00","#ffff00","#ff0000"],"interpolate":"rgb","clamp":true}}},"data":{"values":[
{"x":-0.001,"x2":0.003,"y":0,"y2":1,"s":0.001},{"x":0.003,"x2":0.006,"y":0,"y2":1,"s":0.0045},{"x":0.006,"x2":0.009,"y":0,"y2":1,"s":0.0075},{"x":0.009,"x2":0.012,"y":0,"y2":1,"s":0.0105},{"x":0.012,"x2":0.015,"y":0,"y2":1,"s":0.0135},{"x":0.015,"x2":0.018,"y":0,"y2":1,"s":0.0165},{"x":0.018,"x2":0.021,"y":0,"y2":1,"s":0.0195},{"x":0.021,"x2":0.024,"y":0,"y2":1,"s":0.0225},{"x":0.024,"x2":0.027,"y":0,"y2":1,"s":0.0255},{"x":0.027,"x2":0.03,"y":0,"y2":1,"s":0.0285},{"x":0.03,"x2":0.033,"y":0,"y2":1,"s":0.0315},{"x":0.033,"x2":0.036,"y":0,"y2":1,"s":0.0345},{"x":0.036,"x2":0.039,"y":0,"y2":1,"s":0.0375},{"x":0.039,"x2":0.042,"y":0,"y2":1,"s":0.0405},{"x":0.042,"x2":0.045,"y":0,"y2":1,"s":0.0435},{"x":0.045,"x2":0.048,"y":0,"y2":1,"s":0.0465},{"x":0.048,"x2":0.051,"y":0,"y2":1,"s":0.0495},{"x":0.051,"x2":0.054,"y":0,"y2":1,"s":0.0525},{"x":0.054,"x2":0.057,"y":0,"y2":1,"s":0.0555},{"x":0.057,"x2":0.06,"y":0,"y2":1,"s":0.0585},{"x":0.06,"x2":0.063,"y":0,"y2":1,"s":0.0615},{"x":0.063,"x2":0.066,"y":0,"y2":1,"s":0.0645},{"x":0.066,"x2":0.069,"y":0,"y2":1,"s":0.0675},{"x":0.069,"x2":0.072,"y":0,"y2":1,"s":0.0705},{"x":0.072,"x2":0.075,"y":0,"y2":1,"s":0.0735},{"x":0.075,"x2":0.078,"y":0,"y2":1,"s":0.0765},{"x":0.078,"x2":0.081,"y":0,"y2":1,"s":0.0795},{"x":0.081,"x2":0.084,"y":0,"y2":1,"s":0.0825},{"x":0.084,"x2":0.087,"y":0,"y2":1,"s":0.0855},{"x":0.087,"x2":0.09,"y":0,"y2":1,"s":0.0885},{"x":0.09,"x2":0.093,"y":0,"y2":1,"s":0.0915},{"x":0.093,"x2":0.096,"y":0,"y2":1,"s":0.0945},{"x":0.096,"x2":0.099,"y":0,"y2":1,"s":0.0975},{"x":0.099,"x2":0.102,"y":0,"y2":1,"s":0.1005},{"x":0.102,"x2":0.105,"y":0,"y2":1,"s":0.1035},{"x":0.105,"x2":0.108,"y":0,"y2":1,"s":0.1065},{"x":0.108,"x2":0.111,"y":0,"y2":1,"s":0.1095},{"x":0.111,"x2":0.114,"y":0,"y2":1,"s":0.1125},{"x":0.114,"x2":0.117,"y":0,"y2":1,"s":0.1155},{"x":0.117,"x2":0.12,"y":0,"y2":1,"s":0.1185},{"x":0.12,"x2":0.123,"y":0,"y2":1,"s":0.1215},{"x":0.123,"x2":0.126,"y":0,"y2":1,"s":0.1245},{"x":0.126,"x2":0.129,"y":0,"y2":1,"s":0.1275},{"x":0.129,"x2":0.132,"y":0,"y2":1,"s":0.1305},{"x":0.132,"x2":0.135,"y":0,"y2":1,"s":0.1335},{"x":0.135,"x2":0.138,"y":0,"y2":1,"s":0.1365},{"x":0.138,"x2":0.141,"y":0,"y2":1,"s":0.1395},{"x":0.141,"x2":0.144,"y":0,"y2":1,"s":0.1425},{"x":0.144,"x2":0.147,"y":0,"y2":1,"s":0.1455},{"x":0.147,"x2":0.15,"y":0,"y2":1,"s":0.1485},{"x":0.15,"x2":0.153,"y":0,"y2":1,"s":0.1515},{"x":0.153,"x2":0.156,"y":0,"y2":1,"s":0.1545},{"x":0.156,"x2":0.159,"y":0,"y2":1,"s":0.1575},{"x":0.159,"x2":0.162,"y":0,"y2":1,"s":0.1605},{"x":0.162,"x2":0.165,"y":0,"y2":1,"s":0.1635},{"x":0.165,"x2":0.168,"y":0,"y2":1,"s":0.1665},{"x":0.168,"x2":0.171,"y":0,"y2":1,"s":0.1695},{"x":0.171,"x2":0.174,"y":0,"y2":1,"s":0.1725},{"x":0.174,"x2":0.177,"y":0,"y2":1,"s":0.1755},{"x":0.177,"x2":0.18,"y":0,"y2":1,"s":0.1785},{"x":0.18,"x2":0.183,"y":0,"y2":1,"s":0.1815},{"x":0.183,"x2":0.186,"y":0,"y2":1,"s":0.1845},{"x":0.186,"x2":0.189,"y":0,"y2":1,"s":0.1875},{"x":0.189,"x2":0.192,"y":0,"y2":1,"s":0.1905},{"x":0.192,"x2":0.195,"y":0,"y2":1,"s":0.1935},{"x":0.195,"x2":0.198,"y":0,"y2":1,"s":0.1965},{"x":0.198,"x2":0.201,"y":0,"y2":1,"s":0.1995},{"x":0.201,"x2":0.204,"y":0,"y2":1,"s":0.2025},{"x":0.204,"x2":0.207,"y":0,"y2":1,"s":0.2055},{"x":0.207,"x2":0.21,"y":0,"y2":1,"s":0.2085},{"x":0.21,"x2":0.213,"y":0,"y2":1,"s":0.2115},{"x":0.213,"x2":0.216,"y":0,"y2":1,"s":0.2145},{"x":0.216,"x2":0.219,"y":0,"y2":1,"s":0.2175},{"x":0.219,"x2":0.222,"y":0,"y2":1,"s":0.2205},{"x":0.222,"x2":0.225,"y":0,"y2":1,"s":0.2235},{"x":0.225,"x2":0.228,"y":0,"y2":1,"s":0.2265},{"x":0.228,"x2":0.231,"y":0,"y2":1,"s":0.2295},{"x":0.231,"x2":0.234,"y":0,"y2":1,"s":0.2325},{"x":0.234,"x2":0.237,"y":0,"y2":1,"s":0.2355},{"x":0.237,"x2":0.24,"y":0,"y2":1,"s":0.2385},{"x":0.24,"x2":0.243,"y":0,"y2":1,"s":0.2415},{"x":0.243,"x2":0.246,"y":0,"y2":1,"s":0.2445},{"x":0.246,"x2":0.249,"y":0,"y2":1,"s":0.2475},{"x":0.249,"x2":0.252,"y":0,"y2":1,"s":0.2505},{"x":0.252,"x2":0.255,"y":0,"y2":1,"s":0.2535},{"x":0.255,"x2":0.258,"y":0,"y2":1,"s":0.2565},{"x":0.258,"x2":0.261,"y":0,"y2":1,"s":0.2595},{"x":0.261,"x2":0.264,"y":0,"y2":1,"s":0.2625},{"x":0.264,"x2":0.267,"y":0,"y2":1,"s":0.2655},{"x":0.267,"x2":0.2713,"y":0,"y2":1,"s":0.269}
]}},
{"mark":{"type":"rect","fill":"#6b6838","stroke":"#111111","strokeWidth":1},"data":{"values":[{"x":-0.001,"x2":0.2713,"y":-0.09,"y2":0},{"x":-0.001,"x2":0.2713,"y":1,"y2":1.09}]}},
{"mark":{"type":"rect","fillOpacity":0,"stroke":"#ffee00","strokeWidth":2},"data":{"values":[{"x":-0.0005,"x2":-0.0005,"y":0,"y2":1},{"x":0.2708,"x2":0.2708,"y":0,"y2":1},{"x":0,"x2":0,"y":1.1,"y2":1.24},{"x":0.2,"x2":0.2,"y":1.1,"y2":1.24}]}},
{"mark":{"type":"rect","fillOpacity":0,"stroke":"#8a8a8a","strokeWidth":5},"data":{"values":[{"x":-0.06,"x2":0.00045,"y":3.24,"y2":5}]}},
{"mark":{"type":"point","shape":"circle","filled":true,"color":"#4a3a28","opacity":1,"size":42436},"encoding":{"x2":null,"y2":null},"data":{"values":[{"x":-0.029,"y":6.38}]}}
]}
]}
